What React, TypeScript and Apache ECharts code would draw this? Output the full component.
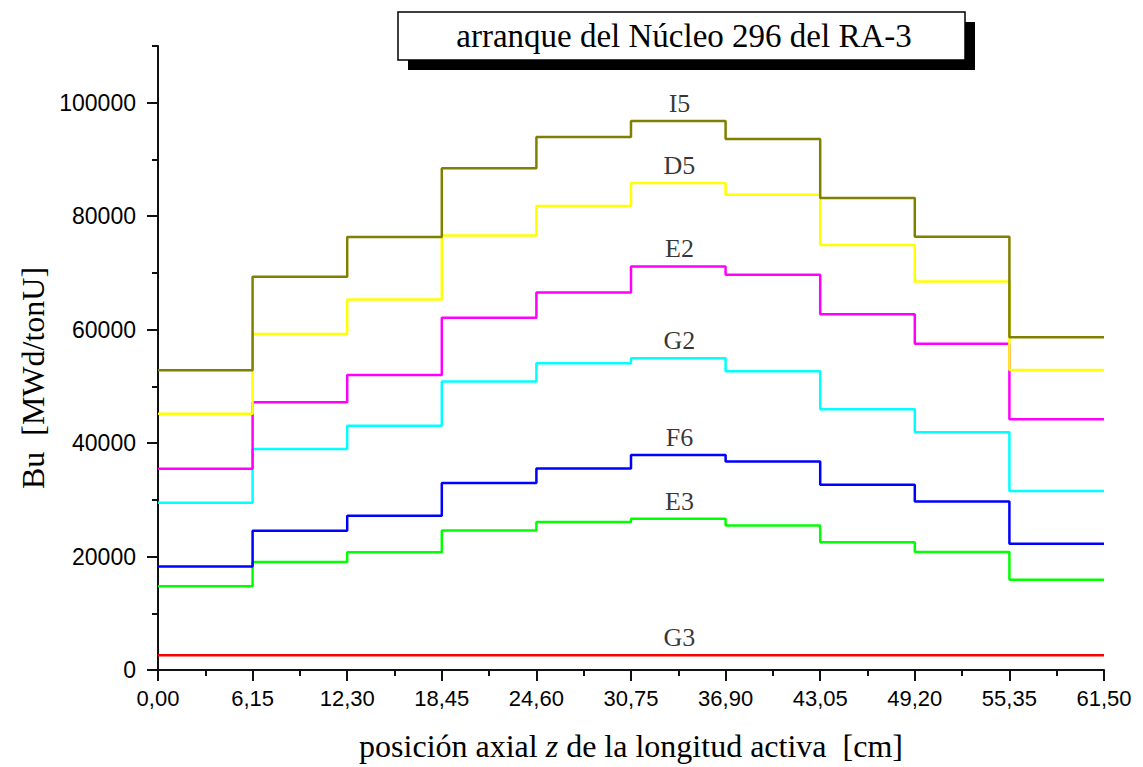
import React, { useEffect, useRef } from "react";
import * as echarts from "echarts";

// Axial positions (segment edges, cm)
const xEdges = [0, 6.15, 12.3, 18.45, 24.6, 30.75, 36.9, 43.05, 49.2, 55.35, 61.5];
const xTickLabels = ["0,00", "6,15", "12,30", "18,45", "24,60", "30,75", "36,90", "43,05", "49,20", "55,35", "61,50"];
const yTickLabels = [0, 20000, 40000, 60000, 80000, 100000];

// Burnup per axial segment [MWd/tonU]
const I5 = [52830, 69320, 76320, 88440, 93960, 96790, 93600, 83200, 76380, 58660];
const D5 = [45190, 59250, 65310, 76610, 81790, 85840, 83790, 74900, 68490, 52900];
const E2 = [35480, 47190, 52020, 62080, 66550, 71140, 69670, 62720, 57490, 44190];
const G2 = [29480, 38960, 43070, 50840, 54070, 54950, 52660, 45980, 41890, 31540];
const F6 = [18240, 24540, 27180, 32950, 35540, 37890, 36770, 32660, 29710, 22240];
const E3 = [14770, 19060, 20770, 24570, 26070, 26650, 25480, 22540, 20780, 15890];
const G3 = [2600, 2600, 2600, 2600, 2600, 2600, 2600, 2600, 2600, 2600];

const seriesNames = ["G3", "E3", "F6", "G2", "E2", "D5", "I5"];
const seriesValues = [G3, E3, F6, G2, E2, D5, I5];
const seriesColors = ["#ff0000", "#00ff00", "#0000ff", "#00ffff", "#ff00ff", "#ffff00", "#808000"];
const labelX = 33.9;

const TITLE = "arranque del Núcleo 296 del RA-3";

function stepData(vals: number[]) {
  const d: number[][] = vals.map((v, i) => [xEdges[i], v]);
  d.push([xEdges[xEdges.length - 1], vals[vals.length - 1]]);
  return d;
}

export default function App() {
  const ref = useRef<HTMLDivElement>(null);
  useEffect(() => {
    if (!ref.current) return;
    const chart = echarts.init(ref.current, null, { renderer: "svg" });
    const axisColor = "#111";
    const lines = seriesValues.map((vals, i) => ({
      type: "line",
      name: seriesNames[i],
      step: "end",
      data: stepData(vals),
      symbol: "none",
      color: seriesColors[i],
      lineStyle: { color: seriesColors[i], width: 2.5 },
      silent: true,
    }));
    const labels = seriesValues.map((vals, i) => ({
      type: "scatter",
      name: seriesNames[i] + "-label",
      data: [[labelX, vals[5]]],
      symbolSize: 1,
      itemStyle: { color: "rgba(0,0,0,0)" },
      silent: true,
      label: {
        show: true,
        position: "top",
        distance: 4,
        formatter: seriesNames[i],
        fontFamily: "Liberation Serif",
        fontSize: 26,
        color: "#000",
      },
    }));
    chart.setOption({
      animation: false,
      backgroundColor: "#fff",
      grid: { left: 158, right: 39, top: 46, bottom: 96, containLabel: false },
      xAxis: {
        type: "value",
        min: 0,
        max: 61.5,
        interval: 6.15,
        axisLine: { show: true, onZero: false, lineStyle: { color: axisColor, width: 2 } },
        axisTick: { show: true, inside: false, length: 11, lineStyle: { color: axisColor, width: 2 } },
        minorTick: { show: true, splitNumber: 2, length: 6, lineStyle: { color: axisColor, width: 2 } },
        splitLine: { show: false },
        minorSplitLine: { show: false },
        axisLabel: {
          formatter: (v: number) => {
            const idx = xEdges.findIndex((e) => Math.abs(e - v) < 1e-6);
            return idx >= 0 ? xTickLabels[idx] : "";
          },
          fontFamily: "Liberation Sans",
          fontSize: 22,
          color: "#000",
          margin: 17,
        },
        name: "posición axial {i|z} de la longitud activa  [cm]",
        nameLocation: "middle",
        nameGap: 60,
        nameTextStyle: {
          fontFamily: "Liberation Serif",
          fontSize: 32,
          color: "#000",
          rich: { i: { fontFamily: "Liberation Serif", fontSize: 32, fontStyle: "italic", color: "#000" } },
        },
      },
      yAxis: [
        {
          type: "value",
          min: 0,
          max: 110000,
          interval: 10000,
          axisLine: { show: true, onZero: false, lineStyle: { color: axisColor, width: 2 } },
          axisTick: { show: true, inside: false, length: 6, lineStyle: { color: axisColor, width: 2 } },
          splitLine: { show: false },
          axisLabel: {
            formatter: (v: number) => (yTickLabels.indexOf(v) >= 0 ? String(v) : ""),
            fontFamily: "Liberation Sans",
            fontSize: 23,
            color: "#000",
            margin: 22,
          },
        },
        {
          type: "value",
          min: 0,
          max: 110000,
          position: "left",
          axisLine: { show: false },
          axisTick: {
            show: true,
            inside: false,
            length: 11,
            customValues: yTickLabels,
            lineStyle: { color: axisColor, width: 2 },
          },
          axisLabel: { show: false },
          splitLine: { show: false },
        },
      ],
      graphic: [
        { type: "rect", shape: { x: 408, y: 22, width: 567, height: 48 }, style: { fill: "#000" }, silent: true },
        {
          type: "rect",
          shape: { x: 398, y: 12, width: 567, height: 48 },
          style: { fill: "#fff", stroke: "#000", lineWidth: 1.5 },
          silent: true,
        },
        {
          type: "text",
          x: 684,
          y: 36,
          style: {
            text: TITLE,
            font: "33px 'Liberation Serif'",
            fill: "#000",
            textAlign: "center",
            textVerticalAlign: "middle",
          },
          silent: true,
        },
        {
          type: "text",
          x: 33,
          y: 378,
          rotation: Math.PI / 2,
          style: {
            text: "Bu  [MWd/tonU]",
            font: "32px 'Liberation Serif'",
            fill: "#000",
            textAlign: "center",
            textVerticalAlign: "middle",
          },
          silent: true,
        },
      ],
      series: [...lines, ...labels],
    });
    return () => chart.dispose();
  }, []);
  return (
    <div
      ref={ref}
      style={{ position: "absolute", left: 0, top: 0, width: 1143, height: 767 }}
    />
  );
}
